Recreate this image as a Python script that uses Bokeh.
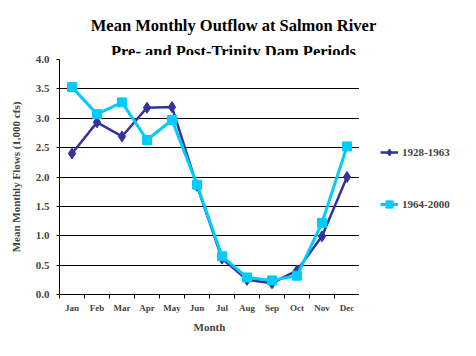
from bokeh.plotting import figure
from bokeh.layouts import column, row
from bokeh.models import (FactorRange, Range1d, LinearAxis, FixedTicker, Legend,
                          LegendItem, NumeralTickFormatter)
from bokeh.core.properties import value
from bokeh.embed import file_html
from bokeh.resources import INLINE

months = ["Jan", "Feb", "Mar", "Apr", "May", "Jun", "Jul", "Aug", "Sep", "Oct", "Nov", "Dec"]
pre_dam = [2.40, 2.93, 2.69, 3.18, 3.19, 1.85, 0.61, 0.25, 0.19, 0.41, 0.99, 2.00]
post_dam = [3.53, 3.07, 3.27, 2.63, 2.97, 1.87, 0.65, 0.29, 0.24, 0.32, 1.22, 2.52]
y_ticks = [0.0, 0.5, 1.0, 1.5, 2.0, 2.5, 3.0, 3.5, 4.0]
series_names = ["1928-1963", "1964-2000"]
title_lines = ["Mean Monthly Outflow at Salmon River", "Pre- and Post-Trinity Dam Periods"]

FONT = "Liberation Serif"
NAVY = "#333399"
CYAN = "#00CCFF"


def bare(fig):
    fig.outline_line_color = None
    fig.background_fill_color = "white"
    fig.border_fill_color = "white"
    fig.xgrid.grid_line_color = None
    fig.ygrid.grid_line_color = None


# ---- title strip (pixel coordinates) ----
tf = figure(width=476, height=55, x_range=Range1d(0, 476), y_range=Range1d(0, 55),
            output_backend="svg", toolbar_location=None, x_axis_location=None,
            y_axis_location=None, min_border=0)
bare(tf)
tf.text(x=[233, 233], y=[30, 4], text=title_lines, text_align="center",
        text_baseline="alphabetic", text_font=value(FONT), text_font_style="bold",
        text_font_size="16.5px", text_color="black")

# ---- main chart ----
p = figure(width=359, height=301, x_range=FactorRange(*months), y_range=Range1d(0, 4),
           output_backend="svg", toolbar_location=None, x_axis_location=None,
           min_border_left=59, min_border_right=0, min_border_top=4, min_border_bottom=62)
bare(p)

# numeric axis over the factor range's synthetic coordinates: labels at centres, ticks at edges
xaxis = LinearAxis(ticker=FixedTicker(ticks=[i + 0.5 for i in range(len(months))],
                                      minor_ticks=list(range(len(months) + 1))),
                   major_label_overrides={i + 0.5: m for i, m in enumerate(months)},
                   axis_label="Month")
xaxis.major_tick_line_color = None
xaxis.minor_tick_out = 4
xaxis.minor_tick_in = 0
xaxis.minor_tick_line_color = "black"
xaxis.axis_line_color = "black"
xaxis.major_label_text_font = FONT
xaxis.major_label_text_font_style = "bold"
xaxis.major_label_text_font_size = "9px"
xaxis.major_label_standoff = 2
xaxis.axis_label_text_font = FONT
xaxis.axis_label_text_font_style = "bold"
xaxis.axis_label_text_font_size = "11px"
xaxis.axis_label_standoff = 5
p.add_layout(xaxis, "below")

ya = p.yaxis[0]
ya.ticker = FixedTicker(ticks=y_ticks)
ya.formatter = NumeralTickFormatter(format="0.0")
ya.axis_label = "Mean Monthly Flows (1,000 cfs)"
ya.major_tick_out = 3
ya.major_tick_in = 0
ya.minor_tick_line_color = None
ya.major_label_standoff = 7
ya.major_label_text_font = FONT
ya.major_label_text_font_style = "bold"
ya.major_label_text_font_size = "11px"
ya.axis_label_text_font = FONT
ya.axis_label_text_font_style = "bold"
ya.axis_label_text_font_size = "11px"
ya.axis_label_standoff = 11

p.ygrid.grid_line_color = "black"
p.ygrid.grid_line_width = 1
p.ygrid.ticker = FixedTicker(ticks=y_ticks)

p.line(months, pre_dam, line_color=NAVY, line_width=2.5)
p.scatter(months, pre_dam, marker="diamond", size=11, fill_color=NAVY, line_color=NAVY)
p.line(months, post_dam, line_color=CYAN, line_width=3)
p.scatter(months, post_dam, marker="square", size=9, fill_color=CYAN, line_color=CYAN)

# ---- legend panel (same series, drawn out of view so only the legend shows) ----
lf = figure(width=117, height=301, x_range=FactorRange(*months), y_range=Range1d(10, 11),
            output_backend="svg", toolbar_location=None, x_axis_location=None,
            y_axis_location=None, min_border=0)
bare(lf)
ll1 = lf.line(months, pre_dam, line_color=NAVY, line_width=2.5)
ls1 = lf.scatter(months, pre_dam, marker="diamond", size=11, fill_color=NAVY, line_color=NAVY)
ll2 = lf.line(months, post_dam, line_color=CYAN, line_width=3)
ls2 = lf.scatter(months, post_dam, marker="square", size=9, fill_color=CYAN, line_color=CYAN)
legend = Legend(items=[LegendItem(label=series_names[0], renderers=[ll1, ls1]),
                       LegendItem(label=series_names[1], renderers=[ll2, ls2])],
                location=(21, 80), padding=0, margin=0, spacing=32,
                glyph_height=20, glyph_width=18, label_height=20, label_standoff=4,
                border_line_color=None, background_fill_alpha=0)
legend.label_text_font = FONT
legend.label_text_font_style = "bold"
legend.label_text_font_size = "11px"
lf.add_layout(legend)

layout = column(tf, row(p, lf, spacing=0), spacing=0)
open("out.html", "w").write(file_html(layout, INLINE))
